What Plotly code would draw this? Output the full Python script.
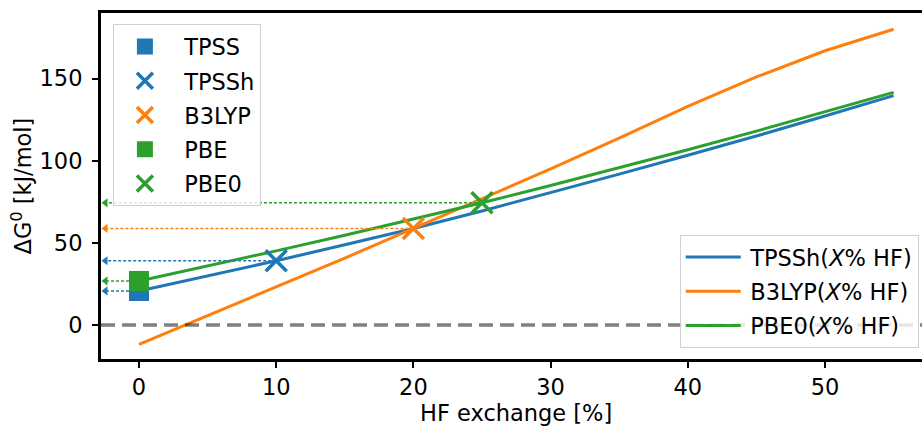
import plotly.graph_objects as go

# HF exchange fraction (%) scanned for each hybrid family
hf_percent = [0, 5, 10, 15, 20, 25, 30, 35, 40, 45, 50, 55]

# Reaction free energy dG0 (kJ/mol) along each HF scan
tpssh_scan = [20.7, 29.8, 39.1, 48.8, 58.7, 69.4, 80.5, 91.8, 103.3, 115.0, 127.2, 139.6]
b3lyp_scan = [-11.8, 5.6, 23.0, 40.7, 58.8, 76.8, 95.0, 113.8, 133.0, 151.0, 166.9, 180.0]
pbe0_scan = [26.8, 35.9, 45.1, 54.6, 64.3, 74.4, 84.9, 95.7, 106.7, 118.0, 129.7, 141.6]

# Standard functionals at their native HF fraction
func_names = ["TPSS", "TPSSh", "B3LYP", "PBE", "PBE0"]
func_hf = [0, 10, 20, 0, 25]
func_dg = [20.7, 39.1, 58.8, 26.8, 74.4]
func_symbol = ["square", "x-thin", "x-thin", "square", "x-thin"]

scan_names = ["TPSSh(<i>X</i>% HF)", "B3LYP(<i>X</i>% HF)", "PBE0(<i>X</i>% HF)"]
scan_values = [tpssh_scan, b3lyp_scan, pbe0_scan]

BLUE, ORANGE, GREEN = "#1f77b4", "#ff7f0e", "#2ca02c"
scan_colors = [BLUE, ORANGE, GREEN]
func_colors = [BLUE, BLUE, ORANGE, GREEN, GREEN]

X_RANGE = [-2.77, 57.07]
Y_RANGE = [-20.7, 189.9]
FONT = "DejaVu Sans"
FS = 22.5
PX_PER_X = (922 - 101) / (X_RANGE[1] - X_RANGE[0])

# extra gap between legend symbol and label
GAP1 = "\u00a0\u00a0"
GAP2 = "\u2009"

fig = go.Figure()

# HF-scan curves
for i, (name, vals, col) in enumerate(zip(scan_names, scan_values, scan_colors)):
    fig.add_trace(go.Scatter(
        x=hf_percent, y=vals, mode="lines", name=GAP2 + name,
        line=dict(color=col, width=3), legend="legend2", legendgroup=f"s{i}",
    ))

# dotted guides from each functional to the energy axis, ending in an arrow head
head_x = X_RANGE[0] + 4.5 / PX_PER_X
for hf, dg, col in zip(func_hf, func_dg, func_colors):
    fig.add_trace(go.Scatter(
        x=[hf, head_x], y=[dg, dg], mode="lines", showlegend=False,
        line=dict(color=col, width=1.5, dash="3px,2px"), hoverinfo="skip",
    ))
    fig.add_trace(go.Scatter(
        x=[head_x], y=[dg], mode="markers", showlegend=False, hoverinfo="skip",
        marker=dict(symbol="triangle-left", size=8, color=col, line=dict(width=0)),
        cliponaxis=False,
    ))

# functional markers
for i, (name, hf, dg, sym, col) in enumerate(zip(func_names, func_hf, func_dg, func_symbol, func_colors)):
    if sym == "square":
        marker = dict(symbol="square", size=20, color=col, line=dict(width=0))
    else:
        marker = dict(symbol="x-thin", size=21, color=col, line=dict(color=col, width=3.5))
    fig.add_trace(go.Scatter(
        x=[hf], y=[dg], mode="markers", name=GAP1 + name, marker=marker,
        legend="legend", legendgroup=f"f{i}",
    ))

# zero reference
fig.add_shape(
    type="line", xref="paper", yref="y", x0=0, x1=1, y0=0, y1=0,
    line=dict(color="rgba(0,0,0,0.5)", width=3.5, dash="14px,7px"), layer="above",
)

fig.add_annotation(
    text="HF exchange [%]", xref="x", yref="paper", x=27.5, y=-0.155,
    showarrow=False, font=dict(family=FONT, size=FS, color="black"),
    xanchor="center", yanchor="middle",
)

legend_style = dict(
    bgcolor="rgba(255,255,255,0.8)", bordercolor="#d0d0d0", borderwidth=1,
    font=dict(family=FONT, size=FS, color="black"), tracegroupgap=2,
    traceorder="grouped",
)

fig.update_layout(
    width=922, height=426,
    margin=dict(l=101, r=0, t=13, b=67),
    paper_bgcolor="white", plot_bgcolor="white",
    font=dict(family=FONT, size=FS, color="black"),
    legend=dict(x=0.0145, y=0.967, xanchor="left", yanchor="top",
                itemwidth=40, indentation=6, **legend_style),
    legend2=dict(x=0.996, y=0.032, xanchor="right", yanchor="bottom",
                 itemwidth=55, **legend_style),
    xaxis=dict(
        range=X_RANGE, tickvals=[0, 10, 20, 30, 40, 50], showgrid=False, zeroline=False,
        showline=True, linecolor="black", linewidth=3, mirror=True,
        ticks="outside", ticklen=6, tickwidth=2, tickcolor="black",
        tickfont=dict(family=FONT, size=FS, color="black"),
    ),
    yaxis=dict(
        range=Y_RANGE, tickvals=[0, 50, 100, 150], showgrid=False, zeroline=False,
        showline=True, linecolor="black", linewidth=3,
        ticks="outside", ticklen=6, tickwidth=2, tickcolor="black",
        ticklabelstandoff=5,
        tickfont=dict(family=FONT, size=FS, color="black"),
        title=dict(text="ΔG<sup>0</sup> [kJ/mol]", standoff=2,
                   font=dict(family=FONT, size=FS, color="black")),
    ),
)

fig.write_html("out.html")
